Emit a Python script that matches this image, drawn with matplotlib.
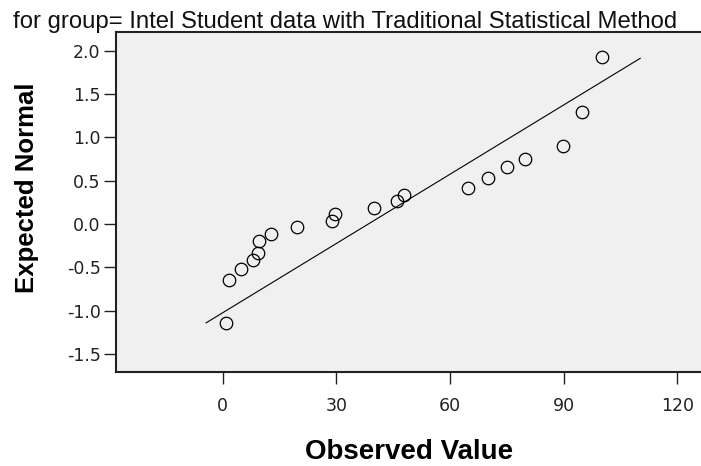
import matplotlib
matplotlib.use("Agg")
import matplotlib.pyplot as plt
from matplotlib import font_manager

# ---- data ----
observed = [0.8, 1.7, 4.75, 7.9, 9.2, 9.6, 12.7, 19.7, 28.9, 29.6,
            39.8, 45.9, 47.9, 64.8, 69.9, 75.0, 79.8, 89.9, 94.9, 100.0]
expected = [-1.14, -0.65, -0.52, -0.415, -0.34, -0.20, -0.11, -0.04, 0.04, 0.12,
            0.18, 0.26, 0.34, 0.41, 0.53, 0.66, 0.745, 0.90, 1.29, 1.92]
line_x = [-4.4, 110.2]
line_y = [-1.14, 1.91]
x_ticks = [0, 30, 60, 90, 120]
y_ticks = [-1.5, -1.0, -0.5, 0.0, 0.5, 1.0, 1.5, 2.0]
title_text = "for group= Intel Student data with Traditional Statistical Method"
x_label = "Observed Value"
y_label = "Expected Normal"

names = {f.name for f in font_manager.fontManager.ttflist}
narrow = "Liberation Sans Narrow" if "Liberation Sans Narrow" in names else "Liberation Sans"
sans = "Liberation Sans" if "Liberation Sans" in names else "DejaVu Sans"

W, H = 701, 466
fig = plt.figure(figsize=(W / 100, H / 100), dpi=100)
fig.patch.set_facecolor("white")

left_px, right_px, top_px, bot_px = 116, 705, 32, 372.3
ax = fig.add_axes([left_px / W, 1 - bot_px / H, (right_px - left_px) / W, (bot_px - top_px) / H])
ax.set_facecolor("#f0f0f0")

ax.plot(line_x, line_y, color="black", lw=0.8, zorder=2)
ax.plot(observed, expected, linestyle="none", marker="o", markersize=9,
        markerfacecolor="none", markeredgecolor="black", markeredgewidth=0.9, zorder=3)

ax.set_xlim(-28.17, 127.3)
ax.set_ylim(-1.7097, 2.2135)
ax.set_xticks(x_ticks)
ax.set_yticks(y_ticks)
ax.set_xticklabels([str(t) for t in x_ticks])
ax.set_yticklabels(["%.1f" % t for t in y_ticks])

for s in ["left", "bottom", "top", "right"]:
    ax.spines[s].set_linewidth(1.5)
    ax.spines[s].set_color("#222222")
ax.spines["right"].set_visible(False)

ax.tick_params(axis="both", direction="out", length=8.5, width=1.0, colors="#222222",
               labelcolor="#222222")
ax.tick_params(axis="y", pad=2.5)
ax.tick_params(axis="x", pad=9)
for lab in ax.get_xticklabels() + ax.get_yticklabels():
    lab.set_fontfamily("DejaVu Sans")
    lab.set_fontsize(12.5)

ax.set_xlabel(x_label, fontsize=20, fontweight="bold", family=sans, va="baseline")
ax.xaxis.set_label_coords(409.5 / W, 1 - 459 / H, transform=fig.transFigure)
ax.set_ylabel(y_label, fontsize=18.5, fontweight="bold", family=sans, va="center", ha="center")
ax.yaxis.set_label_coords(27.5 / W, 1 - 187.5 / H, transform=fig.transFigure)

fig.text(13 / W, 1 - 28 / H, title_text, fontsize=17.2, family=narrow, va="baseline",
         ha="left", color="#111111")

fig.savefig("out.png", dpi=100)
